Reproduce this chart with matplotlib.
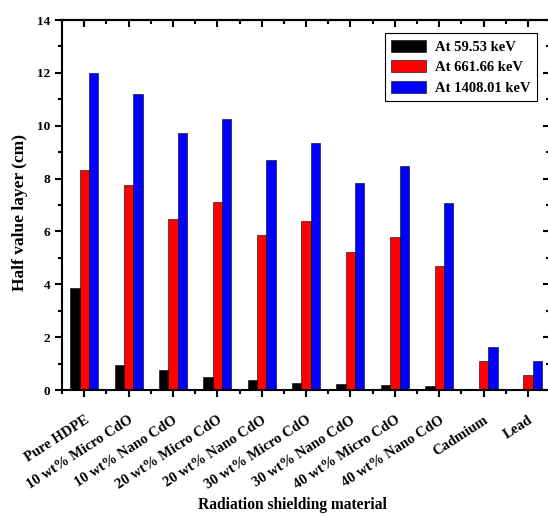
import matplotlib
matplotlib.use("Agg")
import matplotlib.pyplot as plt
import numpy as np
from matplotlib.ticker import MultipleLocator

categories = ["Pure HDPE", "10 wt% Micro CdO", "10 wt% Nano CdO", "20 wt% Micro CdO",
              "20 wt% Nano CdO", "30 wt% Micro CdO", "30 wt% Nano CdO", "40 wt% Micro CdO",
              "40 wt% Nano CdO", "Cadmium", "Lead"]
series_names = ["At 59.53 keV", "At 661.66 keV", "At 1408.01 keV"]
hvl_59 = [3.86, 0.93, 0.76, 0.48, 0.38, 0.28, 0.23, 0.19, 0.15, 0.01, 0.01]
hvl_661 = [8.32, 7.76, 6.48, 7.12, 5.85, 6.39, 5.22, 5.78, 4.70, 1.10, 0.57]
hvl_1408 = [12.0, 11.19, 9.71, 10.26, 8.70, 9.33, 7.82, 8.49, 7.08, 1.64, 1.11]
colors = ["#000000", "#ff0000", "#0000ff"]

plt.rcParams['font.family'] = ['Liberation Serif', 'DejaVu Serif']
plt.rcParams['font.weight'] = 'bold'

fig = plt.figure(figsize=(5.48, 5.17), dpi=100)
ax = fig.add_axes([0.1131, 0.2456, 0.8909, 0.7157])

x = np.arange(len(categories))
w = 0.21
for i, (vals, name, c) in enumerate(zip([hvl_59, hvl_661, hvl_1408], series_names, colors)):
    ax.bar(x + (i - 1) * w, vals, width=w, color=c, edgecolor='black', linewidth=0.4, label=name)

ax.set_xlim(-0.5, 10.5)
ax.set_ylim(0, 14)
ax.yaxis.set_major_locator(MultipleLocator(2))
ax.yaxis.set_minor_locator(MultipleLocator(1))
ax.set_xticks(x)
ax.set_xticks(np.arange(-0.5, 10.6, 1.0), minor=True)
ax.set_xticklabels(categories, rotation=33, ha='right', rotation_mode='anchor', fontsize=10.5, fontweight='bold')
for lab in ax.get_yticklabels():
    lab.set_fontweight('bold')
ax.tick_params(axis='y', labelsize=9.5)

ax.tick_params(axis='both', which='major', direction='out', length=5, width=1.5, top=False, right=False)
ax.tick_params(axis='both', which='minor', direction='out', length=3, width=1.5, top=False, right=False)
ax.tick_params(axis='x', which='major', pad=12)

# inward ticks on top and right (mirror)
ax_top = ax.secondary_xaxis('top')
ax_top.set_xticks(x)
ax_top.set_xticks(np.arange(-0.5, 10.6, 1.0), minor=True)
ax_top.tick_params(which='major', direction='in', length=5, width=1.5, labeltop=False)
ax_top.tick_params(which='minor', direction='in', length=3, width=1.5)
ax_top.set_xticklabels([])
ax_right = ax.secondary_yaxis('right')
ax_right.yaxis.set_major_locator(MultipleLocator(2))
ax_right.yaxis.set_minor_locator(MultipleLocator(1))
ax_right.tick_params(which='major', direction='in', length=5, width=1.5, labelright=False)
ax_right.tick_params(which='minor', direction='in', length=3, width=1.5)
ax_right.set_yticklabels([])

for s in ax.spines.values():
    s.set_linewidth(1.5)
for sec in (ax_top, ax_right):
    for s in sec.spines.values():
        s.set_linewidth(1.5)

ax.set_ylabel("Half value layer (cm)", fontsize=12.5, fontweight='bold', va='center')
ax.yaxis.set_label_coords(-0.086, 0.48)
ax.set_xlabel("Radiation shielding material", fontsize=11.2, fontweight='bold', va='center')
ax.xaxis.set_label_coords(0.472, -0.31)

leg = ax.legend(loc='upper right', bbox_to_anchor=(0.973, 0.965), borderaxespad=0,
                fancybox=False, edgecolor='black', framealpha=1,
                prop={'family': 'Liberation Serif', 'weight': 'bold', 'size': 10.5},
                handlelength=2.4, handleheight=0.9, labelspacing=0.45, borderpad=0.45,
                handletextpad=0.6)
leg.get_frame().set_linewidth(0.8)

fig.savefig("out.png", dpi=100)
